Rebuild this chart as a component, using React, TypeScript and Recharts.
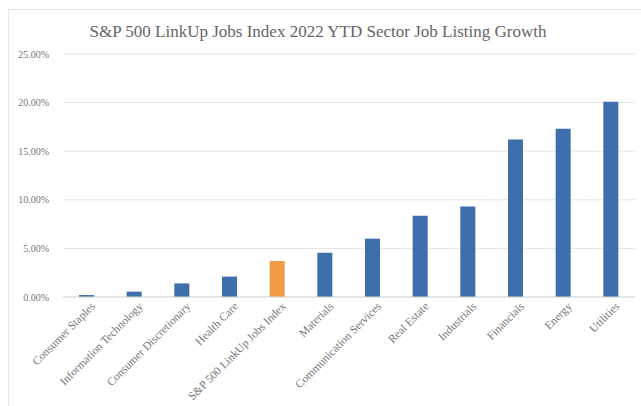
import React from "react";
import { BarChart, Bar, XAxis, YAxis, CartesianGrid, Cell } from "recharts";

const categories = [
  "Consumer Staples",
  "Information Technology",
  "Consumer Discretionary",
  "Health Care",
  "S&P 500 LinkUp Jobs Index",
  "Materials",
  "Communication Services",
  "Real Estate",
  "Industrials",
  "Financials",
  "Energy",
  "Utilities",
];
const growth = [0.2, 0.55, 1.4, 2.1, 3.7, 4.55, 6.0, 8.35, 9.3, 16.2, 17.3, 20.1];
const highlight = "S&P 500 LinkUp Jobs Index";
const yTicks = [0, 5, 10, 15, 20, 25];

const data = categories.map((name, i) => ({ name, value: growth[i] }));

const FONT = "'Liberation Serif', 'DejaVu Serif', serif";
const BLUE = "#3F6EAC";
const ORANGE = "#F39A45";

const XTick = (props: any) => {
  const { x, y, payload } = props;
  return (
    <g transform={`translate(${x + 9},${y + 2})`}>
      <text
        x={0}
        y={0}
        textAnchor="end"
        transform="rotate(-45)"
        fontSize={11.5}
        fontFamily={FONT}
        fill="#767676"
      >
        {payload.value}
      </text>
    </g>
  );
};

export default function App() {
  return (
    <div style={{ position: "absolute", left: 0, top: 0, width: 641, height: 406, background: "#fff" }}>
      <div
        style={{
          position: "absolute",
          left: 8,
          top: 9,
          width: 640,
          height: 400,
          border: "1px solid #e6e6e6",
          boxSizing: "border-box",
        }}
      />
      <div
        style={{
          position: "absolute",
          left: 0,
          top: 22,
          width: 636,
          textAlign: "center",
          fontFamily: FONT,
          fontSize: 17,
          color: "#666666",
        }}
      >
        S&amp;P 500 LinkUp Jobs Index 2022 YTD Sector Job Listing Growth
      </div>
      <div style={{ position: "absolute", left: 0, top: 0 }}>
        <BarChart
          width={641}
          height={406}
          data={data}
          margin={{ top: 54, right: 6, bottom: 0, left: 8 }}
          barSize={15}
        >
          <CartesianGrid vertical={false} stroke="#e4e4e4" />
          <XAxis
            dataKey="name"
            interval={0}
            tick={<XTick />}
            tickLine={false}
            axisLine={{ stroke: "#d9d9d9" }}
            height={109}
          />
          <YAxis
            domain={[0, 25]}
            ticks={yTicks}
            width={55}
            tickLine={false}
            axisLine={false}
            tickMargin={8}
            tickFormatter={(v: number) => `${v.toFixed(2)}%`}
            tick={{ fontSize: 10, fontFamily: FONT, fill: "#767676" }}
          />
          <Bar dataKey="value" isAnimationActive={false}>
            {data.map((d) => (
              <Cell key={d.name} fill={d.name === highlight ? ORANGE : BLUE} />
            ))}
          </Bar>
        </BarChart>
      </div>
    </div>
  );
}
